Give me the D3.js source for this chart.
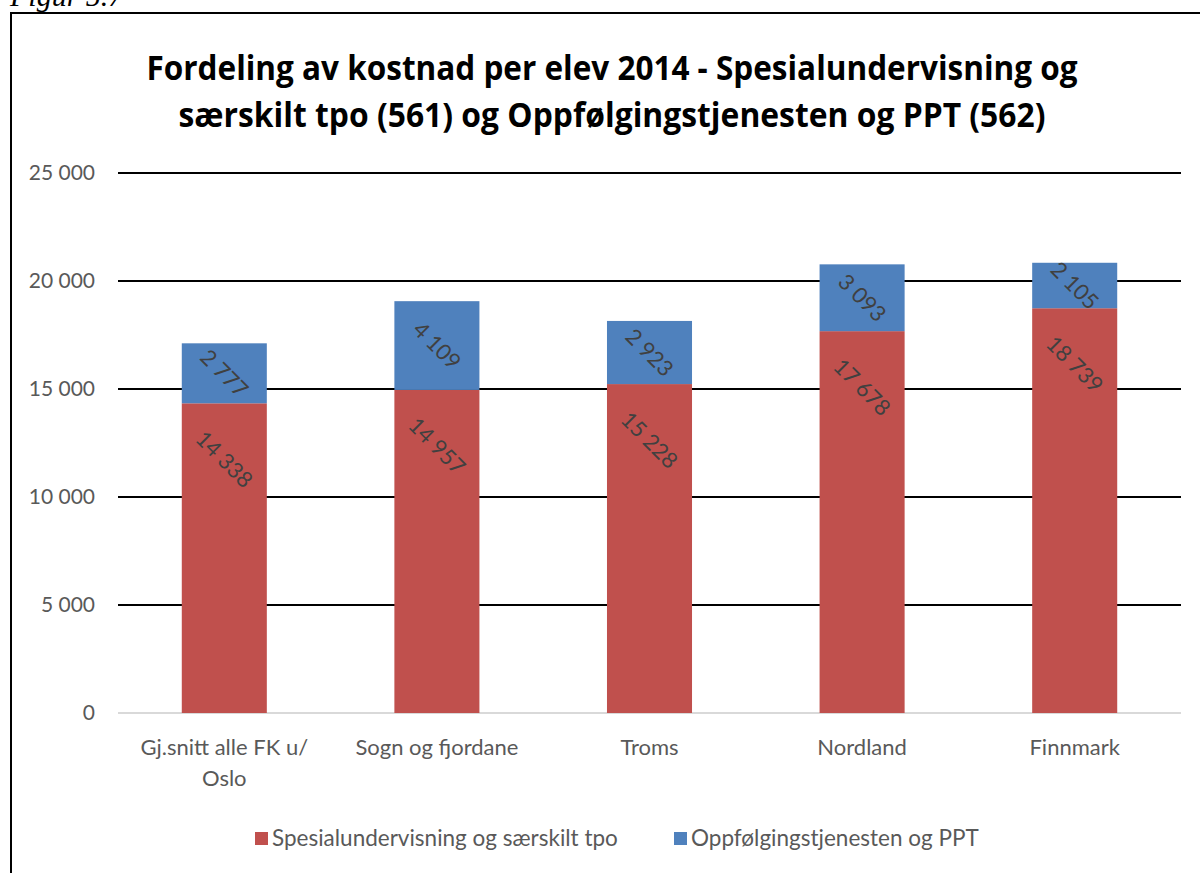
<!DOCTYPE html>
<html>
<head>
<meta charset="utf-8">
<script src="https://cdn.jsdelivr.net/npm/d3@7"></script>
<style>
  body { margin: 0; background: #fff; }
  svg { display: block; }
</style>
</head>
<body>
<div id="chart"></div>
<script>
let categories = [["Gj.snitt alle FK u/", "Oslo"], ["Sogn og fjordane"], ["Troms"], ["Nordland"], ["Finnmark"]];
let spesial = [14338, 14957, 15228, 17678, 18739];
let oppfolging = [2777, 4109, 2923, 3093, 2105];
let seriesNames = ["Spesialundervisning og særskilt tpo", "Oppfølgingstjenesten og PPT"];
let seriesColors = ["#c0504d", "#4f81bd"];
let yTicks = [0, 5000, 10000, 15000, 20000, 25000];

let w = 1200, h = 873;
let svg = d3.select("#chart").append("svg").attr("width", w).attr("height", h);
let font = "Lato, 'Open Sans', sans-serif";

// figure caption, mostly cut off at top (as in the scan)
svg.append("text").attr("x", 10).attr("y", 6)
  .style("font-family", "'Liberation Serif', serif").style("font-style", "italic")
  .style("font-size", "30px").text("Figur 5.7");

// frame
svg.append("rect").attr("x", 11).attr("y", 13).attr("width", 1200).attr("height", 900)
  .style("fill", "none").style("stroke", "#000").style("stroke-width", 2);

// title
let title = ["Fordeling av kostnad per elev 2014 - Spesialundervisning og", "særskilt tpo (561) og Oppfølgingstjenesten og PPT (562)"];
let titleLen = [931, 867];
svg.selectAll(".title").data(title).enter().append("text")
  .attr("x", 612).attr("y", (d, i) => 80 + i * 47)
  .attr("text-anchor", "middle")
  .attr("textLength", (d, i) => titleLen[i]).attr("lengthAdjust", "spacingAndGlyphs")
  .style("font-family", "'Open Sans', sans-serif").style("font-weight", "bold")
  .style("font-size", "34px").style("fill", "#000")
  .text(d => d);

let x = d3.scaleBand().domain(d3.range(categories.length)).range([118, 1181]).paddingInner(0.6).paddingOuter(0.3);
let y = d3.scaleLinear().domain([0, 25000]).range([713, 173]);
let fmt = v => d3.format(",")(v).replace(/,/g, " ");

// gridlines
svg.selectAll(".grid").data(yTicks.slice(1)).enter().append("line")
  .attr("x1", 118).attr("x2", 1181).attr("y1", d => y(d)).attr("y2", d => y(d))
  .style("stroke", "#000").style("stroke-width", 2);
svg.append("line").attr("x1", 118).attr("x2", 1181).attr("y1", y(0)).attr("y2", y(0))
  .style("stroke", "#d9d9d9").style("stroke-width", 2);

// y axis labels
let yAxis = d3.axisLeft(y).tickValues(yTicks).tickSize(0).tickPadding(0).tickFormat(fmt);
let gy = svg.append("g").attr("transform", "translate(95,0)").call(yAxis);
gy.select(".domain").remove();
gy.selectAll("text").style("font-family", font).style("font-size", "21px").style("fill", "#595959");

// stacked bars
let rows = spesial.map((v, i) => ({ i: i, s: v, o: oppfolging[i] }));
let stack = d3.stack().keys(["s", "o"])(rows);

let layers = svg.selectAll(".layer").data(stack).enter().append("g")
  .style("fill", (d, i) => seriesColors[i]);
layers.selectAll("rect").data(d => d).enter().append("rect")
  .attr("x", d => x(d.data.i))
  .attr("width", x.bandwidth())
  .attr("y", d => y(d[1]))
  .attr("height", d => y(d[0]) - y(d[1]));

// value labels, rotated 45 degrees; red ones sit near the top of the segment, blue ones centred
layers.each(function (layer, li) {
  d3.select(this).selectAll("text").data(layer).enter().append("text")
    .attr("transform", d => {
      let cy = li == 0 ? y(d[1]) + 56 : (y(d[0]) + y(d[1])) / 2;
      return "translate(" + (x(d.data.i) + x.bandwidth() / 2) + "," + cy + ") rotate(45)";
    })
    .attr("text-anchor", "middle").attr("dy", "0.35em")
    .style("font-family", font).style("font-size", "22px").style("fill", "#404040")
    .text(d => fmt(d[1] - d[0]));
});

// category labels
let cats = svg.selectAll(".cat").data(categories).enter().append("text")
  .attr("text-anchor", "middle")
  .style("font-family", font).style("font-size", "22px").style("fill", "#595959");
cats.selectAll("tspan").data((d, i) => d.map(t => ({ t: t, i: i }))).enter().append("tspan")
  .attr("x", d => x(d.i) + x.bandwidth() / 2)
  .attr("y", (d, j) => 755 + j * 31)
  .text(d => d.t);

// legend
let legX = [255, 674];
let leg = svg.selectAll(".leg").data(seriesNames).enter().append("g")
  .attr("transform", (d, i) => "translate(" + legX[i] + ",832)");
leg.append("rect").attr("width", 13).attr("height", 13).style("fill", (d, i) => seriesColors[i]);
leg.append("text").attr("x", 17).attr("y", 14)
  .style("font-family", font).style("font-size", "22.5px").style("fill", "#595959")
  .text(d => d);
</script>
</body>
</html>
